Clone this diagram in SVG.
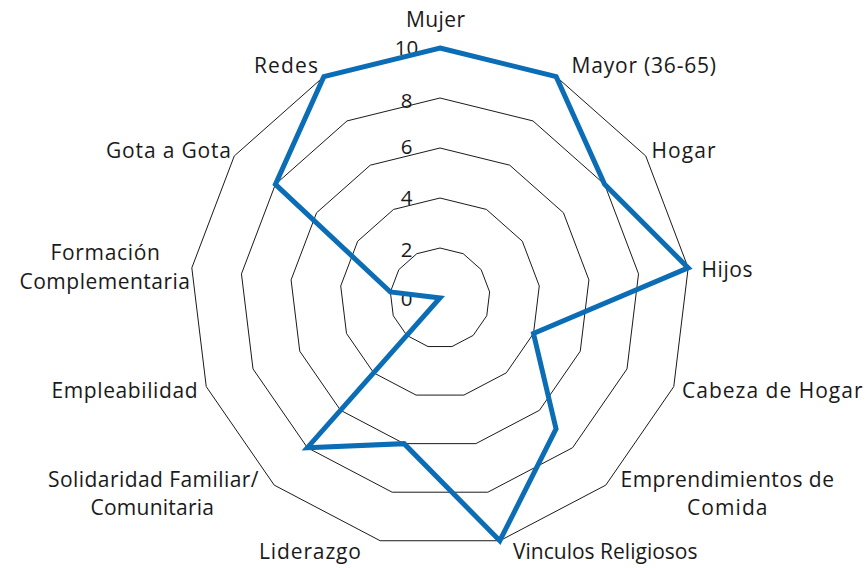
<svg xmlns="http://www.w3.org/2000/svg" width="867" height="568" viewBox="0 0 867 568">
<style>
.ring{fill:none;stroke:#1a1a1a;stroke-width:1}
.series{fill:none;stroke:#0A6DB5;stroke-width:5;stroke-linejoin:miter}
.lbl{font-family:"Open Sans","Liberation Sans",sans-serif;font-size:21px;fill:#1a1a1a}
.tick{font-family:"Open Sans","Liberation Sans",sans-serif;font-size:20.5px;fill:#1a1a1a;text-anchor:middle}
</style>
<rect width="867" height="568" fill="#ffffff"/>
<g id="grid">
<polygon class="ring" points="440,248 463.24,253.73 481.15,269.6 489.64,291.97 486.75,315.73 473.16,335.43 451.97,346.55 428.03,346.55 406.84,335.43 393.25,315.73 390.36,291.97 398.85,269.6 416.76,253.73"/>
<polygon class="ring" points="440,198 486.47,209.45 522.3,241.19 539.27,285.95 533.5,333.46 506.31,372.85 463.93,395.09 416.07,395.09 373.69,372.85 346.5,333.46 340.73,285.95 357.7,241.19 393.53,209.45"/>
<polygon class="ring" points="440,148 509.71,165.18 563.45,212.79 588.91,279.92 580.25,351.19 539.47,410.28 475.9,443.64 404.1,443.64 340.53,410.28 299.75,351.19 291.09,279.92 316.55,212.79 370.29,165.18"/>
<polygon class="ring" points="440,98 532.94,120.91 604.6,184.39 638.54,273.89 627,368.92 572.62,447.7 487.86,492.19 392.14,492.19 307.38,447.7 253,368.92 241.46,273.89 275.4,184.39 347.06,120.91"/>
<polygon class="ring" points="440,48 556.18,76.64 645.75,155.99 688.18,267.87 673.76,386.65 605.78,485.13 499.83,540.74 380.17,540.74 274.22,485.13 206.25,386.65 191.82,267.87 234.25,155.99 323.82,76.64"/>
</g>
<g id="ticks">
<text class="tick" x="406.5" y="306">0</text>
<text class="tick" x="406.5" y="256.7">2</text>
<text class="tick" x="406.5" y="205">4</text>
<text class="tick" x="406.5" y="154">6</text>
<text class="tick" x="406.5" y="108.3">8</text>
<text class="tick" x="406.5" y="55">10</text>
</g>
<g id="connectors">
<polygon id="series" class="series" points="440,48 556.18,76.64 604.6,184.39 688.18,267.87 533.5,333.46 556.05,428.99 499.83,540.74 404.1,443.64 307.38,447.7 440,298 390.36,291.97 275.4,184.39 323.82,76.64"/>
</g>
<g id="labels">
<g id="n-mujer"><text class="lbl" x="406" y="27.3" textLength="59">Mujer</text></g>
<g id="n-mayor"><text class="lbl" x="571.5" y="73.3" textLength="144.5">Mayor (36-65)</text></g>
<g id="n-hogar"><text class="lbl" x="651.5" y="158.3" textLength="64">Hogar</text></g>
<g id="n-hijos"><text class="lbl" x="701.5" y="276.7" textLength="51">Hijos</text></g>
<g id="n-cabeza"><text class="lbl" x="682" y="398.3" textLength="180.5">Cabeza de Hogar</text></g>
<g id="n-emprend"><text class="lbl" x="620.5" y="487.3" textLength="213.5">Emprendimientos de</text><text class="lbl" x="687" y="515" textLength="80.5">Comida</text></g>
<g id="n-vinculos"><text class="lbl" x="513" y="559" textLength="184.5">Vinculos Religiosos</text></g>
<g id="n-liderazgo"><text class="lbl" x="259" y="559" textLength="102">Liderazgo</text></g>
<g id="n-solidaridad"><text class="lbl" x="48" y="487.3" textLength="210.5">Solidaridad Familiar/</text><text class="lbl" x="90.5" y="515" textLength="123.5">Comunitaria</text></g>
<g id="n-empleabilidad"><text class="lbl" x="51.5" y="398.3" textLength="146">Empleabilidad</text></g>
<g id="n-formacion"><text class="lbl" x="50.5" y="260" textLength="109.5">Formación</text><text class="lbl" x="19.5" y="289.3" textLength="170.5">Complementaria</text></g>
<g id="n-gota"><text class="lbl" x="106" y="158.3" textLength="125">Gota a Gota</text></g>
<g id="n-redes"><text class="lbl" x="254" y="73.3" textLength="64">Redes</text></g>
</g>
</svg>
